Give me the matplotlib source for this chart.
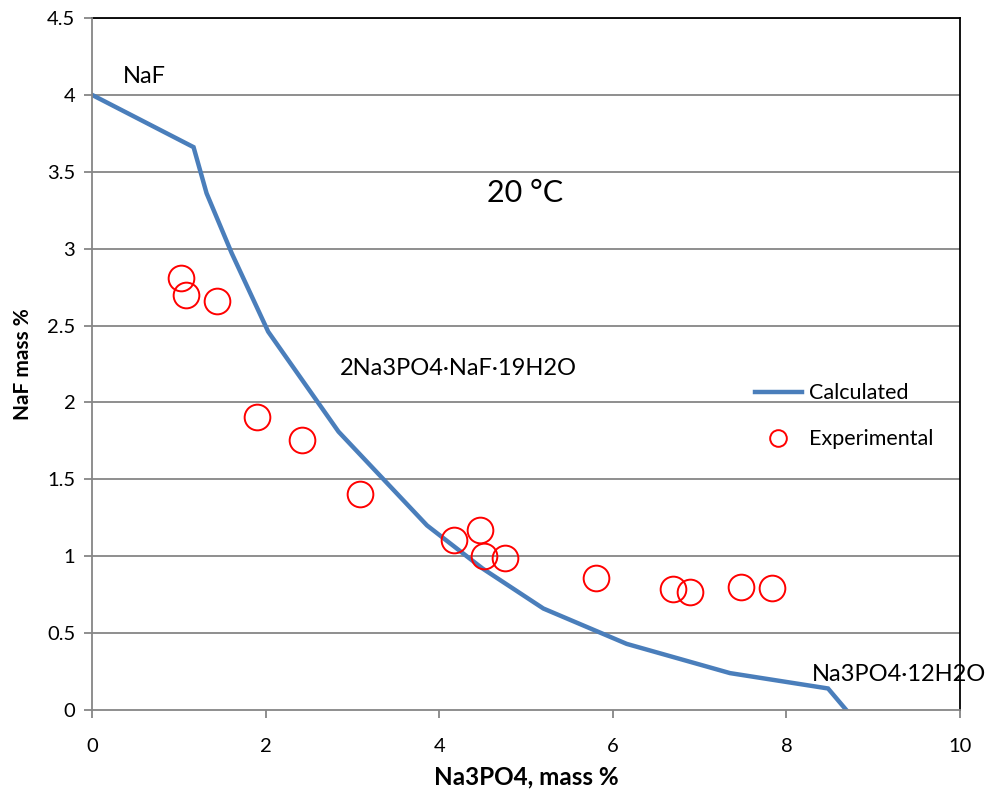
import matplotlib
matplotlib.use("Agg")
import matplotlib.pyplot as plt
from matplotlib.lines import Line2D

plt.rcParams['font.family'] = ['Lato', 'DejaVu Sans']

calc_x = [0.0, 1.17, 1.32, 1.61, 2.03, 2.84, 3.86, 4.5, 5.2, 6.16, 7.35, 8.48, 8.69]
calc_y = [4.0, 3.66, 3.36, 2.97, 2.46, 1.81, 1.20, 0.92, 0.66, 0.43, 0.24, 0.14, 0.0]

exp_x = [1.025, 1.08, 1.44, 1.897, 2.42, 3.09, 4.17, 4.47, 4.52, 4.76, 5.81, 6.69, 6.89, 7.48, 7.84]
exp_y = [2.81, 2.70, 2.66, 1.907, 1.755, 1.404, 1.105, 1.17, 1.003, 0.986, 0.856, 0.785, 0.769, 0.80, 0.795]

x_ticks = [0, 2, 4, 6, 8, 10]
y_ticks = [0, 0.5, 1, 1.5, 2, 2.5, 3, 3.5, 4, 4.5]
y_tick_labels = ['0', '0.5', '1', '1.5', '2', '2.5', '3', '3.5', '4', '4.5']

fig = plt.figure(figsize=(9.85, 8.02), dpi=100)
ax = fig.add_axes([0.0934, 0.1147, 0.8812, 0.8629])

grid_c = '#868686'
for yv in y_ticks[1:]:
    ax.axhline(yv, color=grid_c, lw=1.3, zorder=1)

ax.plot(calc_x, calc_y, color='#4A7EBB', lw=3.2, zorder=3, solid_joinstyle='miter')
ax.plot(exp_x, exp_y, linestyle='none', marker='o', markersize=18.5, markerfacecolor='none',
        markeredgecolor='#FF0000', markeredgewidth=1.4, zorder=4)

ax.set_xlim(0, 10)
ax.set_ylim(0, 4.5)
ax.set_xticks(x_ticks)
ax.set_xticklabels([str(v) for v in x_ticks])
ax.set_yticks(y_ticks)
ax.set_yticklabels(y_tick_labels)

for s in ['left', 'bottom']:
    ax.spines[s].set_color(grid_c)
    ax.spines[s].set_linewidth(1.3)
for s in ['top', 'right']:
    ax.spines[s].set_color('black')
    ax.spines[s].set_linewidth(1.3)
ax.spines['left'].set_zorder(5)
ax.spines['bottom'].set_zorder(5)

ax.tick_params(axis='both', direction='out', length=6, width=1.3, color=grid_c, labelsize=14.5)
ax.tick_params(axis='x', pad=14)
ax.tick_params(axis='y', pad=6)

ax.set_xlabel('Na3PO4, mass %', fontsize=17.5, fontweight='bold', labelpad=8)
ax.set_ylabel('NaF mass %', fontsize=15, fontweight='bold', labelpad=10)

ax.text(0.36, 4.12, 'NaF', fontsize=17, ha='left', va='center')
ax.text(4.99, 3.36, '20 \u00b0C', fontsize=22, ha='center', va='center')
ax.text(2.86, 2.22, '2Na3PO4\u00b7NaF\u00b719H2O', fontsize=17, ha='left', va='center')
ax.text(8.29, 0.228, 'Na3PO4\u00b712H2O', fontsize=17, ha='left', va='center', clip_on=False)

handles = [Line2D([0], [0], color='#4A7EBB', lw=3.2),
           Line2D([0], [0], linestyle='none', marker='o', markersize=12, markerfacecolor='none',
                  markeredgecolor='#FF0000', markeredgewidth=1.4)]
leg = ax.legend(handles, ['Calculated', 'Experimental'], loc='upper left',
                bbox_to_anchor=(0.741, 0.50), frameon=False, fontsize=15.5,
                handlelength=2.2, handletextpad=0.35, labelspacing=1.2)

fig.savefig('out.png', dpi=100)
